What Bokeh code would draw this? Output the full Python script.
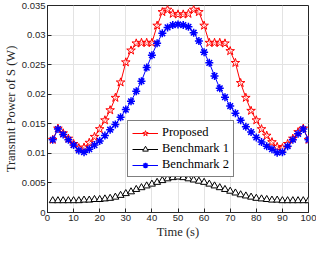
from bokeh.plotting import figure
from bokeh.models import FixedTicker, Legend, LegendItem, Range1d
from bokeh.embed import file_html
from bokeh.resources import INLINE

time_s = list(range(2, 101, 2))
proposed = [0.0123, 0.0142, 0.0134, 0.0125, 0.0116, 0.0109, 0.0110, 0.0118, 0.0128, 0.0141,
            0.0156, 0.0173, 0.0194, 0.0220, 0.0254, 0.0274, 0.0286, 0.0287, 0.0287, 0.0287,
            0.0316, 0.0339, 0.0343, 0.0336, 0.0335, 0.0335, 0.0336, 0.0343, 0.0339, 0.0316,
            0.0287, 0.0287, 0.0287, 0.0286, 0.0273, 0.0253, 0.0219, 0.0194, 0.0172, 0.0156,
            0.0141, 0.0130, 0.0119, 0.0111, 0.0109, 0.0116, 0.0125, 0.0136, 0.0142, 0.0123]
benchmark1 = [0.0020, 0.0020, 0.0020, 0.0020, 0.0020, 0.0020, 0.0021, 0.0021, 0.0022, 0.0022,
              0.0023, 0.0024, 0.0026, 0.0029, 0.0032, 0.0035, 0.0039, 0.0042, 0.0045, 0.0048,
              0.0051, 0.0054, 0.0057, 0.0059, 0.0060, 0.0059, 0.0057, 0.0055, 0.0053, 0.0051,
              0.0048, 0.0045, 0.0042, 0.0039, 0.0036, 0.0033, 0.0030, 0.0028, 0.0026, 0.0024,
              0.0023, 0.0022, 0.0021, 0.0021, 0.0020, 0.0020, 0.0020, 0.0020, 0.0020, 0.0020]
benchmark2 = [0.0123, 0.0141, 0.0132, 0.0123, 0.0114, 0.0105, 0.0102, 0.0107, 0.0114, 0.0121,
              0.0130, 0.0140, 0.0149, 0.0161, 0.0174, 0.0188, 0.0205, 0.0222, 0.0245, 0.0266,
              0.0286, 0.0303, 0.0313, 0.0317, 0.0318, 0.0317, 0.0314, 0.0304, 0.0290, 0.0271,
              0.0253, 0.0231, 0.0210, 0.0195, 0.0180, 0.0168, 0.0156, 0.0145, 0.0136, 0.0127,
              0.0119, 0.0112, 0.0107, 0.0101, 0.0102, 0.0112, 0.0123, 0.0133, 0.0141, 0.0123]
x_ticks = [0, 10, 20, 30, 40, 50, 60, 70, 80, 90, 100]
y_ticks = [0, 0.005, 0.01, 0.015, 0.02, 0.025, 0.03, 0.035]
y_tick_labels = ["0", "0.005", "0.01", "0.015", "0.02", "0.025", "0.03", "0.035"]
legend_labels = ["Proposed", "Benchmark 1", "Benchmark 2"]

AX = "#262626"
SANS = "Liberation Sans"
SERIF = "Liberation Serif"

p = figure(width=316, height=241, output_backend="svg", toolbar_location=None,
           x_range=Range1d(0, 100), y_range=Range1d(0, 0.035),
           min_border_left=2, min_border_right=8, min_border_top=5, min_border_bottom=0)
p.outline_line_color = AX
p.outline_line_width = 1

for ax in (p.xaxis[0], p.yaxis[0]):
    ax.major_tick_in = 4
    ax.major_tick_out = 0
    ax.minor_tick_line_color = None
    ax.axis_line_color = AX
    ax.major_tick_line_color = AX
    ax.major_label_text_color = AX
    ax.major_label_text_font = SANS
    ax.major_label_text_font_size = "9.5px"
    ax.major_label_standoff = 2
    ax.axis_label_text_font = SERIF
    ax.axis_label_text_font_style = "normal"
    ax.axis_label_text_font_size = "12.5px"
    ax.axis_label_text_color = AX
    ax.axis_label_standoff = 1

p.xaxis[0].ticker = FixedTicker(ticks=x_ticks)
p.yaxis[0].ticker = FixedTicker(ticks=y_ticks)
p.yaxis[0].major_label_overrides = {t: l for t, l in zip(y_ticks, y_tick_labels)}
p.xaxis[0].axis_label = "Time (s)"
p.yaxis[0].axis_label = "Transmit Power of S (W)"

p.xgrid.ticker = FixedTicker(ticks=x_ticks)
p.ygrid.ticker = FixedTicker(ticks=y_ticks)
p.grid.grid_line_color = "#e3e3e3"
p.grid.grid_line_width = 1

r1l = p.line(time_s, proposed, line_color="#ff0000", line_width=1)
r1m = p.scatter(time_s, proposed, marker="star", size=9, line_color="#ff0000",
                fill_color="#ffffff", fill_alpha=0.5, line_width=1)
r2l = p.line(time_s, benchmark1, line_color="#000000", line_width=1)
r2m = p.scatter(time_s, benchmark1, marker="triangle", size=7, line_color="#000000",
                fill_color="#ffffff", line_width=1)
r3l = p.line(time_s, benchmark2, line_color="#0000ff", line_width=1)
r3m = p.scatter(time_s, benchmark2, marker="asterisk", size=8, line_color="#0000ff",
                line_width=1.5)

legend = Legend(items=[LegendItem(label=legend_labels[0], renderers=[r1l, r1m]),
                       LegendItem(label=legend_labels[1], renderers=[r2l, r2m]),
                       LegendItem(label=legend_labels[2], renderers=[r3l, r3m])],
                location=(80, 35), label_text_font=SERIF, label_text_font_size="12.5px",
                label_text_color="#000000", glyph_width=26, glyph_height=14,
                label_height=14, spacing=1, padding=4, margin=0, label_standoff=4,
                border_line_color="#000000", border_line_width=1,
                background_fill_color="#ffffff", background_fill_alpha=1)
p.add_layout(legend)

open("out.html", "w").write(file_html(p, INLINE))
